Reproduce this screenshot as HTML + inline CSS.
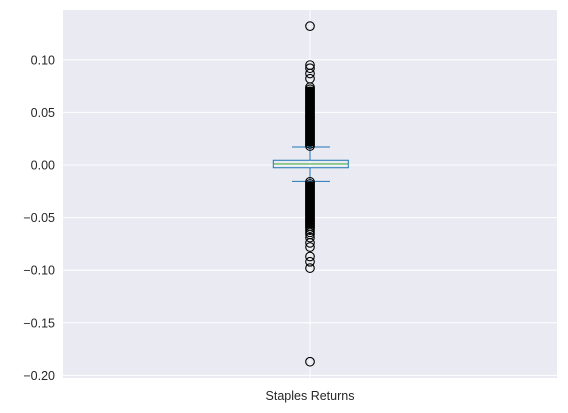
<!DOCTYPE html>
<html><head><meta charset="utf-8"><style>
body{margin:0;background:#fff;}
svg{display:block;font-family:"Liberation Sans","DejaVu Sans",sans-serif;}
</style></head><body>
<svg id="chart" width="568" height="413"></svg>
<script>
const category = "Staples Returns";
const yTicks = [0.10, 0.05, 0.00, -0.05, -0.10, -0.15, -0.20];
const yTickLabels = ["0.10", "0.05", "0.00", "\u22120.05", "\u22120.10", "\u22120.15", "\u22120.20"];
const boxStats = [-0.0156, -0.0026, 0.001, 0.0045, 0.0171]; // whislo, q1, median, q3, whishi
const outliersHigh = [0.018,0.020,0.022,0.024,0.026,0.028,0.030,0.032,0.034,0.036,0.038,0.040,0.042,0.044,0.046,0.048,0.050,0.052,0.054,0.056,0.058,0.060,0.062,0.064,0.066,0.068,0.070,0.072,0.074,0.082,0.087,0.092,0.095,0.132];
const outliersLow = [-0.016,-0.018,-0.020,-0.022,-0.024,-0.026,-0.028,-0.030,-0.032,-0.034,-0.036,-0.038,-0.040,-0.042,-0.044,-0.046,-0.048,-0.050,-0.052,-0.054,-0.056,-0.058,-0.060,-0.062,-0.064,-0.066,-0.069,-0.074,-0.078,-0.087,-0.092,-0.098,-0.187];

const NS="http://www.w3.org/2000/svg";
const svg=document.getElementById('chart');
const L=63,R=557,T=10,B=378;
const y=v=>165-v*1052;
const cx=310;
function mk(t,a,p){const e=document.createElementNS(NS,t);for(const k in a)e.setAttribute(k,a[k]);(p||svg).appendChild(e);return e;}
const bg=mk('rect',{x:L,y:T,width:R-L,height:B-T,fill:'#eaeaf2'});


yTicks.forEach((t,i)=>{
  const g=mk('line',{x1:L,x2:R,y1:y(t),y2:y(t),stroke:'#fff','stroke-width':1});
  
  
  const tx=mk('text',{x:55,y:y(t)+4.5,'text-anchor':'end','font-size':12.5,fill:'#262626'});
  tx.textContent=yTickLabels[i];
  
  
});
const vg=mk('line',{x1:cx,x2:cx,y1:T,y2:B,stroke:'#fff','stroke-width':1});


const [wl,q1,med,q3,wh]=boxStats;
const blue='#1f77b4';
const w1=mk('line',{x1:cx,x2:cx,y1:y(q3),y2:y(wh),stroke:blue});


const w2=mk('line',{x1:cx,x2:cx,y1:y(q1),y2:y(wl),stroke:blue});


[wh,wl].forEach(v=>{const c=mk('line',{x1:292,x2:330,y1:y(v),y2:y(v),stroke:blue});

});
const box=mk('rect',{x:273.3,y:y(q3),width:75,height:y(q1)-y(q3),fill:'none',stroke:blue});


const m=mk('line',{x1:273.3,x2:348.3,y1:y(med),y2:y(med),stroke:'#2ca02c'});


outliersHigh.concat(outliersLow).forEach(v=>{
  const c=mk('circle',{cx:cx,cy:y(v),r:4.3,fill:'none',stroke:'#000','stroke-width':1.1});
  
  
});
// dense fill between stacked outliers
const d1=mk('rect',{x:cx-4.8,y:y(0.074),width:9.6,height:y(0.018)-y(0.074),fill:'#000'});


const d2=mk('rect',{x:cx-4.8,y:y(-0.016),width:9.6,height:y(-0.060)-y(-0.016),fill:'#000'});


const xl=mk('text',{x:cx,y:400,'text-anchor':'middle','font-size':12.5,fill:'#262626'});
xl.textContent=category;


</script>
</body></html>
